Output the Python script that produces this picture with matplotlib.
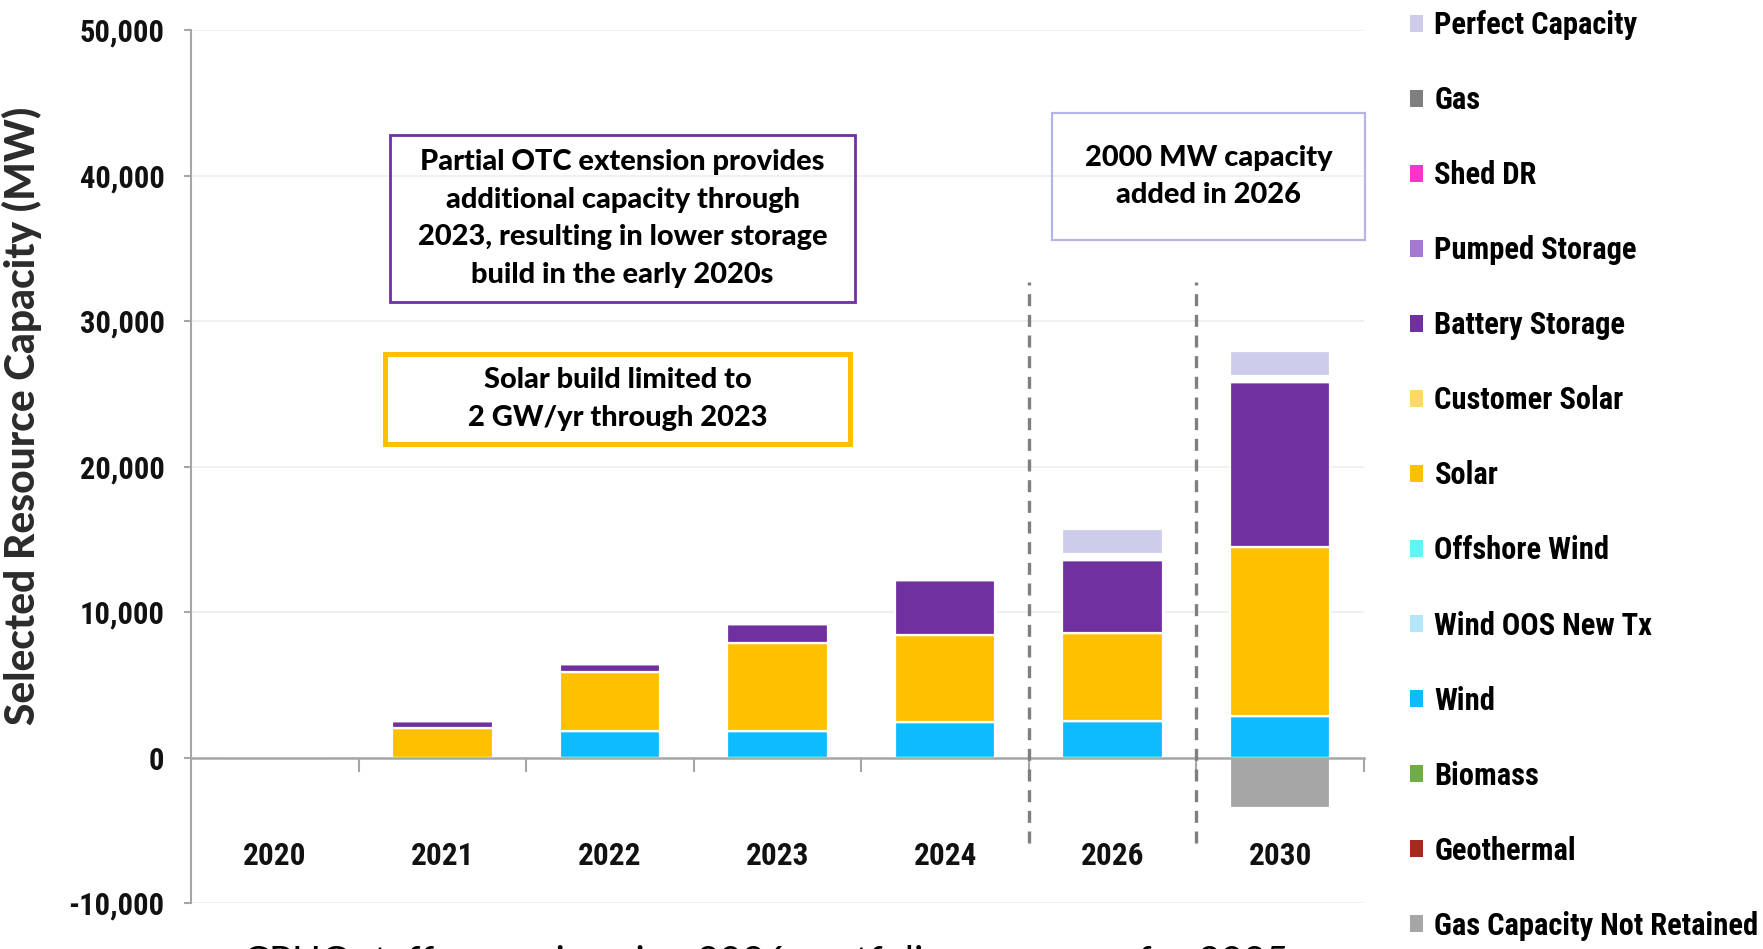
import numpy as np
import matplotlib
matplotlib.use('Agg')
import matplotlib.pyplot as plt
from matplotlib import font_manager as fm
from matplotlib.patches import Rectangle, Patch
from matplotlib.ticker import FuncFormatter, MultipleLocator

years = ['2020', '2021', '2022', '2023', '2024', '2026', '2030']

# selected capacity in MW, bottom of the stack first
gas_not_retained = [0, 0, 0, 0, 0, 0, -3500]
geothermal = [0, 0, 0, 0, 0, 0, 0]
biomass = [0, 0, 0, 0, 0, 0, 0]
wind = [0, 0, 1800, 1800, 2450, 2500, 2850]
wind_oos = [0, 0, 0, 0, 0, 0, 0]
offshore_wind = [0, 0, 0, 0, 0, 0, 0]
solar = [0, 2000, 4100, 6050, 6000, 6050, 11650]
customer_solar = [0, 0, 0, 0, 0, 0, 0]
battery = [0, 500, 550, 1300, 3750, 5000, 11300]
pumped_storage = [0, 0, 0, 0, 0, 0, 0]
shed_dr = [0, 0, 0, 0, 0, 0, 0]
gas = [0, 0, 0, 0, 0, 0, 0]
perfect_capacity = [0, 0, 0, 0, 0, 1700, 1700]

series = [
    ('Geothermal', geothermal, '#A52A1E'),
    ('Biomass', biomass, '#70AD47'),
    ('Wind', wind, '#0DBBFF'),
    ('Wind OOS New Tx', wind_oos, '#B3E6FA'),
    ('Offshore Wind', offshore_wind, '#5FF5F5'),
    ('Solar', solar, '#FFC000'),
    ('Customer Solar', customer_solar, '#FFD966'),
    ('Battery Storage', battery, '#7030A0'),
    ('Pumped Storage', pumped_storage, '#A678D6'),
    ('Shed DR', shed_dr, '#FF33CC'),
    ('Gas', gas, '#7F7F7F'),
    ('Perfect Capacity', perfect_capacity, '#CDCDEB'),
]
neg_series = ('Gas Capacity Not Retained', gas_not_retained, '#A6A6A6')


def pick_font(prefs, fallback):
    files = [f.fname for f in fm.fontManager.ttflist]
    for p in prefs:
        for fn in files:
            if p in fn.lower().replace(' ', ''):
                return fn
    return fm.findfont(fm.FontProperties(family=fallback, weight='bold'))


def pick_face(families, min_w):
    for fam in families:
        for f in fm.fontManager.ttflist:
            w = f.weight if isinstance(f.weight, int) else fm.weight_dict.get(f.weight, 400)
            if f.name == fam and w >= min_w and f.style == 'normal' and f.stretch == 'normal' \
                    and 'italic' not in f.fname.lower():
                return f.fname
    return fm.findfont(fm.FontProperties(family='DejaVu Sans', weight='bold'))


# the source uses a squeezed Calibri Bold, so take the narrowest bold face around
narrow_file = pick_font(['liberationsansnarrow-bold.', 'notosans-condensedbold', 'notosanscondensed-bold',
                         'robotocondensed-bold.', 'dejavusanscondensed-bold.', 'opensans-condensedbold',
                         'opensanscondensed-bold'], 'Roboto')
bold_file = pick_face(['Lato', 'Roboto', 'Noto Sans', 'Liberation Sans'], 700)
semi_file = pick_face(['Lato', 'Roboto', 'Noto Sans', 'Liberation Sans'], 600)
reg_file = pick_font(['lato-regular.', 'opensans-regular.'], 'Open Sans')


def fp(path, size):
    return fm.FontProperties(fname=path, size=size)


W, H = 1763, 949
fig = plt.figure(figsize=(W / 100, H / 100), dpi=100)
ax = fig.add_axes([191 / W, 1 - 903 / H, (1364 - 191) / W, (903 - 30) / H])

x = np.arange(len(years))
bw = 0.6
pc_gap = 450  # white gap under the perfect capacity block

bottom = np.zeros(len(years))
for name, vals, col in series:
    v = np.array(vals, dtype=float)
    b = bottom.copy()
    if name == 'Perfect Capacity':
        b = b + np.where(v > 0, pc_gap, 0)
    ax.bar(x, v, bw, bottom=b, color=col, edgecolor='white', linewidth=1.6, zorder=3)
    bottom = bottom + v
name, vals, col = neg_series
ax.bar(x, vals, bw, bottom=0, color=col, edgecolor='white', linewidth=1.6, zorder=3)

ax.set_xlim(-0.5, len(years) - 0.5)
ax.set_ylim(-10000, 50000)
ax.yaxis.set_major_locator(MultipleLocator(10000))
ax.yaxis.set_major_formatter(FuncFormatter(lambda v, p: f'{v:,.0f}'))
ax.grid(axis='y', color='#EDEDED', linewidth=1.2, zorder=0)

for s in ['top', 'right']:
    ax.spines[s].set_visible(False)
ax.spines['left'].set_color('#A6A6A6')
ax.spines['left'].set_linewidth(1.5)
ax.spines['bottom'].set_position(('data', 0))
ax.spines['bottom'].set_color('#A6A6A6')
ax.spines['bottom'].set_linewidth(1.8)
ax.spines['bottom'].set_zorder(4)

ax.set_xticks(x + 0.5)
ax.set_xticklabels([])
ax.tick_params(axis='x', direction='out', length=10, width=1.5, color='#A6A6A6')
ax.tick_params(axis='y', direction='out', length=5, width=1.5, color='#A6A6A6', pad=14)
for lab in ax.get_yticklabels():
    lab.set_fontproperties(fp(narrow_file, 22))
    lab.set_color('#111111')

for xi, yr in zip(x, years):
    ax.text(xi, -6750, yr, ha='center', va='center', fontproperties=fp(narrow_file, 22.5),
            color='#111111')

ax.set_ylabel('Selected Resource Capacity (MW)', fontproperties=fp(semi_file, 27), color='#2B2B2B')
ax.yaxis.set_label_coords((42 - 191) / (1364 - 191), (903 - 416) / (903 - 30))

# dashed separators before 2026 and 2030
for xv in [4.5, 5.5]:
    ax.plot([xv, xv], [-5900, 32700], color='#7F7F7F', linewidth=2.4,
            linestyle=(0, (3.6, 2.6)), zorder=5)

renderer = fig.canvas.get_renderer()

ylab = ax.yaxis.label
h = ylab.get_window_extent(renderer).height
ylab.set_fontsize(ylab.get_fontsize() * 618 / h)


def box(x0, y0, x1, y1, col, lw, text, size):
    fig.patches.append(Rectangle((x0 / W, 1 - y1 / H), (x1 - x0) / W, (y1 - y0) / H,
                                 transform=fig.transFigure, fill=False, edgecolor=col,
                                 linewidth=lw))
    return fig.text((x0 + x1) / 2 / W, 1 - (y0 + y1) / 2 / H, text, ha='center', va='center',
                    fontproperties=fp(bold_file, size), linespacing=1.55, color='black')


t1 = box(390, 135, 855, 302, '#7030A0', 2.0,
         'Partial OTC extension provides\nadditional capacity through\n'
         '2023, resulting in lower storage\nbuild in the early 2020s', 20)
s = 20 * 412 / t1.get_window_extent(renderer).width
t1.set_fontsize(s)
box(385, 354, 850, 444, '#FFC000', 3.6, 'Solar build limited to\n2 GW/yr through 2023', s)
box(1052, 113, 1365, 240, '#B4B4E6', 1.6, '2000 MW capacity\nadded in 2026', s)

handles = [Patch(facecolor=c, edgecolor='none') for _, _, c in series[::-1]]
labels = [n for n, _, _ in series[::-1]]
handles.append(Patch(facecolor=neg_series[2], edgecolor='none'))
labels.append(neg_series[0])
fig.legend(handles, labels, loc='upper left', bbox_to_anchor=(1410 / W, 1 - 10 / H),
           frameon=False, borderpad=0, borderaxespad=0, handlelength=0.42,
           handleheight=0.48, handletextpad=0.38, labelspacing=1.475,
           prop=fp(narrow_file, 22))

fig.text(766 / W, (949 - 974) / H, 'CPUC staff scenario using 2026 portfolio as a proxy for 2025',
         ha='center', va='baseline', fontproperties=fp(reg_file, 28), color='black')

fig.savefig('out.png', dpi=100)
